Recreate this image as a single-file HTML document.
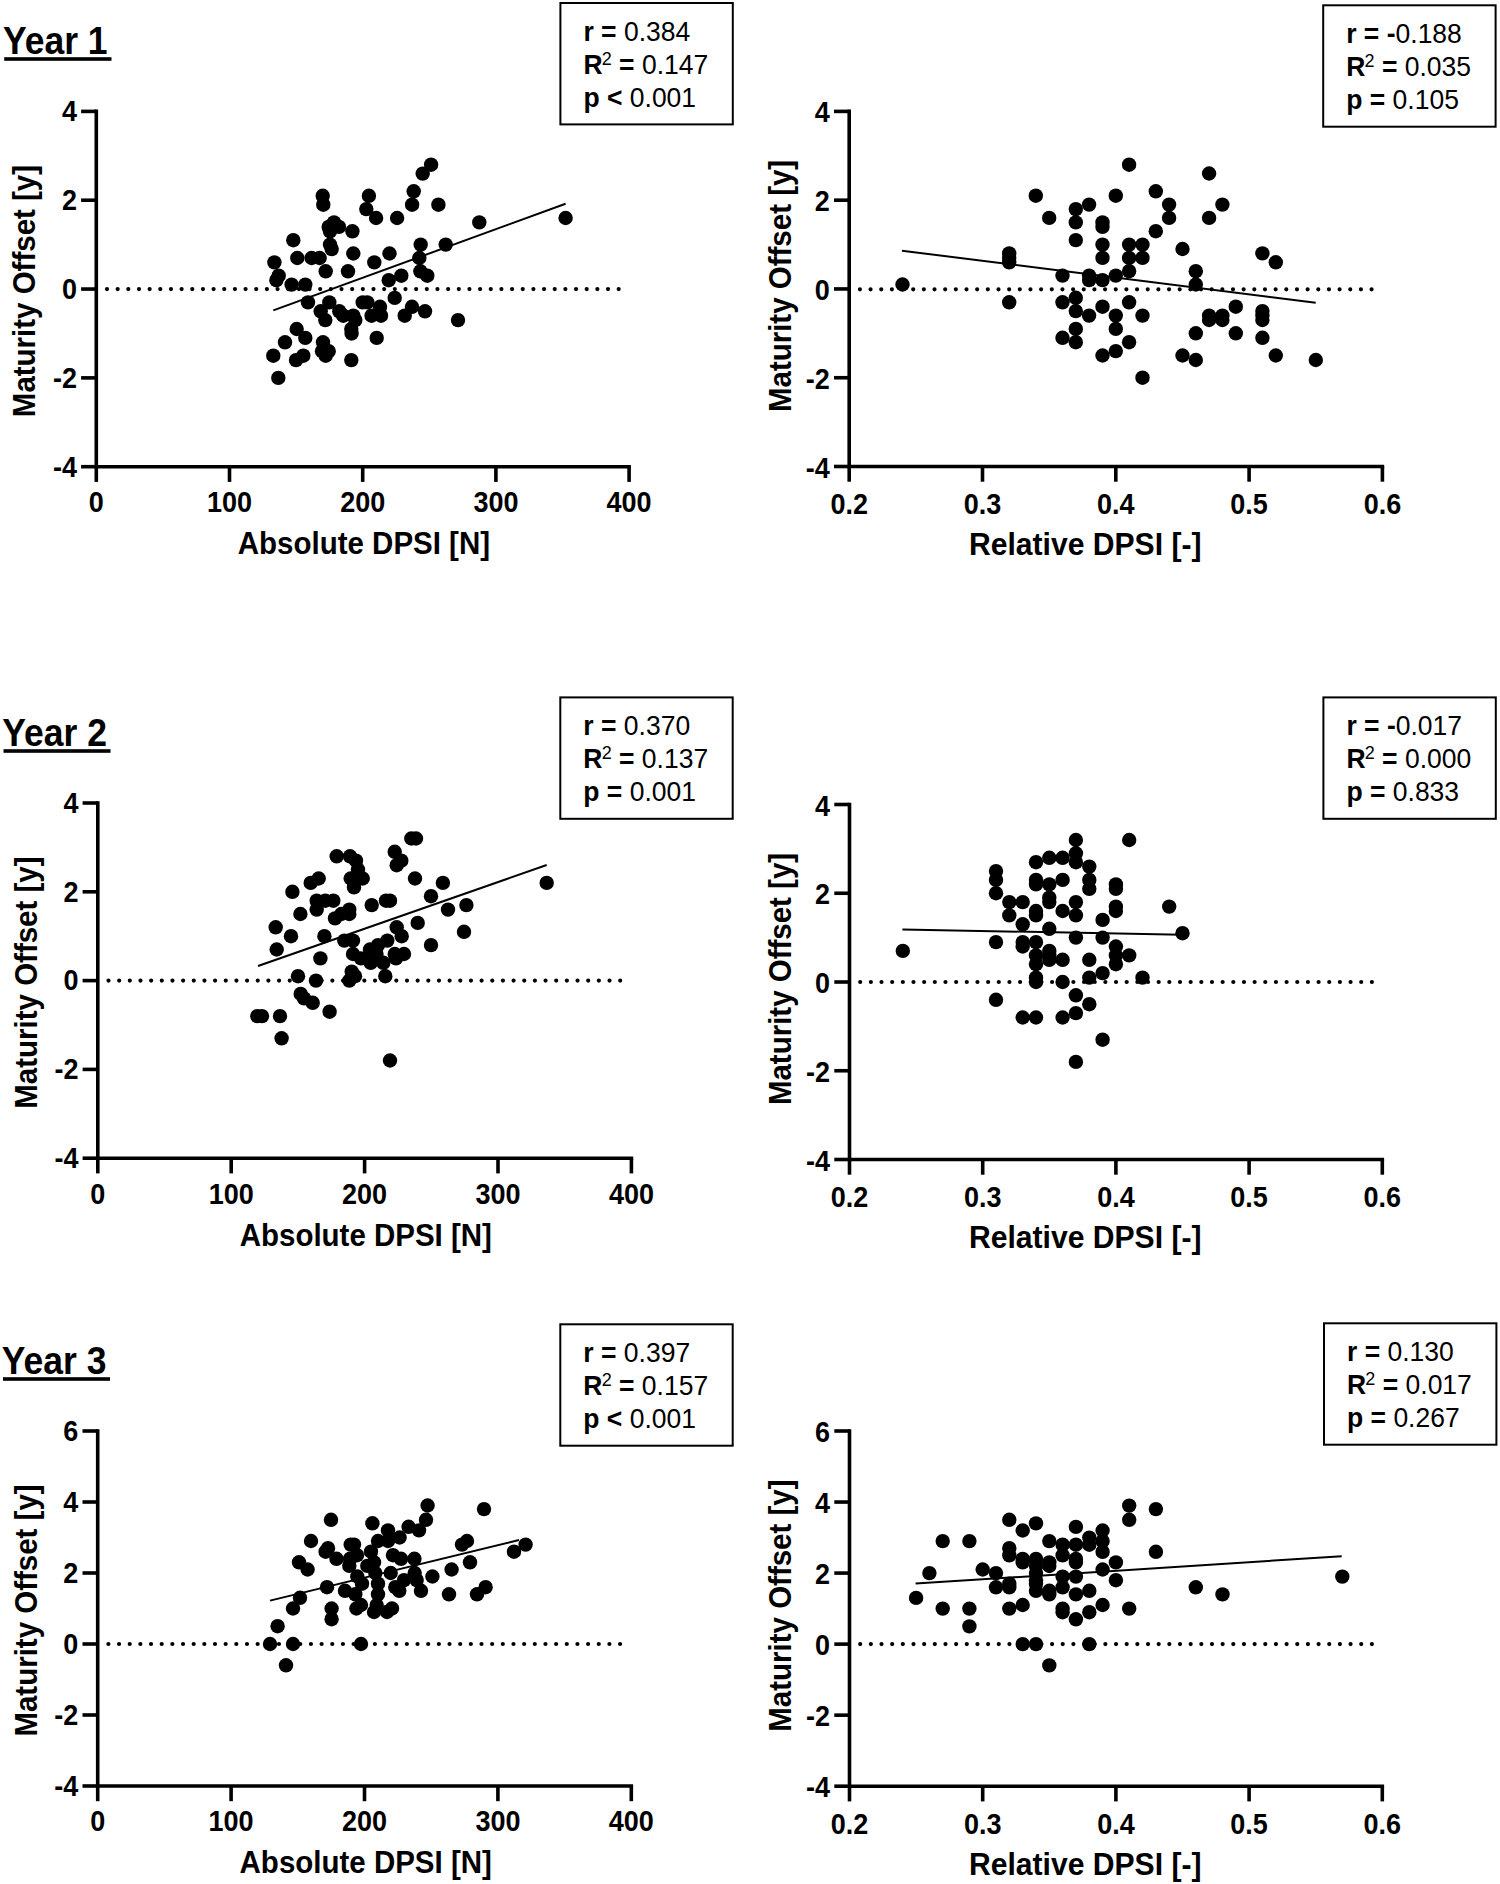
<!DOCTYPE html><html><head><meta charset="utf-8"><style>html,body{margin:0;padding:0;background:#fff;overflow:hidden;}svg{display:block;}text{font-family:"Liberation Sans",sans-serif;fill:#000;}</style></head><body>
<svg width="1500" height="1884" viewBox="0 0 1500 1884">
<rect width="1500" height="1884" fill="#fff"/>
<g><path d="M96.30 109.60V466.70H630.90" fill="none" stroke="#000" stroke-width="3.6"/><path d="M81.10 111.40H96.30" stroke="#000" stroke-width="3.6"/><text transform="translate(76.90 121.20) scale(1.0 1.07)" font-size="27" font-weight="bold" text-anchor="end">4</text><path d="M81.10 200.22H96.30" stroke="#000" stroke-width="3.6"/><text transform="translate(76.90 210.03) scale(1.0 1.07)" font-size="27" font-weight="bold" text-anchor="end">2</text><path d="M81.10 289.05H96.30" stroke="#000" stroke-width="3.6"/><text transform="translate(76.90 298.85) scale(1.0 1.07)" font-size="27" font-weight="bold" text-anchor="end">0</text><path d="M81.10 377.88H96.30" stroke="#000" stroke-width="3.6"/><text transform="translate(76.90 387.68) scale(1.0 1.07)" font-size="27" font-weight="bold" text-anchor="end">-2</text><path d="M81.10 466.70H96.30" stroke="#000" stroke-width="3.6"/><text transform="translate(76.90 476.50) scale(1.0 1.07)" font-size="27" font-weight="bold" text-anchor="end">-4</text><path d="M96.30 466.70V481.90" stroke="#000" stroke-width="3.6"/><text transform="translate(96.30 512.00) scale(1.0 1.07)" font-size="27" font-weight="bold" text-anchor="middle">0</text><path d="M229.50 466.70V481.90" stroke="#000" stroke-width="3.6"/><text transform="translate(229.50 512.00) scale(1.0 1.07)" font-size="27" font-weight="bold" text-anchor="middle">100</text><path d="M362.70 466.70V481.90" stroke="#000" stroke-width="3.6"/><text transform="translate(362.70 512.00) scale(1.0 1.07)" font-size="27" font-weight="bold" text-anchor="middle">200</text><path d="M495.90 466.70V481.90" stroke="#000" stroke-width="3.6"/><text transform="translate(495.90 512.00) scale(1.0 1.07)" font-size="27" font-weight="bold" text-anchor="middle">300</text><path d="M629.10 466.70V481.90" stroke="#000" stroke-width="3.6"/><text transform="translate(629.10 512.00) scale(1.0 1.07)" font-size="27" font-weight="bold" text-anchor="middle">400</text><path d="M107.00 289.05H619.68" stroke="#000" stroke-width="4.2" stroke-linecap="round" stroke-dasharray="0 10.66"/><text transform="translate(363.90 554.00) scale(1.0 1.07)" font-size="29.5" font-weight="bold" text-anchor="middle">Absolute DPSI [N]</text><text transform="translate(35.30 291.05) rotate(-90) scale(1.0 1.04)" font-size="29.5" font-weight="bold" text-anchor="middle">Maturity Offset [y]</text><path d="M273.3 310.4L565.6 203.7" stroke="#000" stroke-width="2"/><g fill="#000"><circle cx="431.1" cy="164.7" r="7.2"/><circle cx="422.7" cy="173.6" r="7.2"/><circle cx="413.7" cy="191.3" r="7.2"/><circle cx="412.1" cy="204.7" r="7.2"/><circle cx="438.4" cy="204.7" r="7.2"/><circle cx="322.7" cy="195.8" r="7.2"/><circle cx="323.3" cy="204.7" r="7.2"/><circle cx="368.9" cy="195.8" r="7.2"/><circle cx="366.3" cy="209.1" r="7.2"/><circle cx="376.1" cy="218.0" r="7.2"/><circle cx="397.1" cy="218.0" r="7.2"/><circle cx="334.0" cy="222.4" r="7.2"/><circle cx="328.7" cy="226.9" r="7.2"/><circle cx="339.0" cy="226.9" r="7.2"/><circle cx="330.0" cy="231.3" r="7.2"/><circle cx="352.4" cy="231.3" r="7.2"/><circle cx="293.3" cy="240.2" r="7.2"/><circle cx="330.0" cy="244.6" r="7.2"/><circle cx="331.7" cy="249.1" r="7.2"/><circle cx="353.3" cy="253.5" r="7.2"/><circle cx="389.5" cy="253.5" r="7.2"/><circle cx="420.7" cy="244.6" r="7.2"/><circle cx="445.7" cy="244.6" r="7.2"/><circle cx="274.4" cy="262.4" r="7.2"/><circle cx="297.3" cy="258.0" r="7.2"/><circle cx="311.6" cy="258.0" r="7.2"/><circle cx="319.6" cy="258.0" r="7.2"/><circle cx="374.3" cy="262.4" r="7.2"/><circle cx="419.3" cy="258.0" r="7.2"/><circle cx="325.7" cy="271.3" r="7.2"/><circle cx="348.0" cy="271.3" r="7.2"/><circle cx="278.7" cy="275.7" r="7.2"/><circle cx="276.4" cy="280.2" r="7.2"/><circle cx="291.6" cy="284.6" r="7.2"/><circle cx="305.3" cy="284.6" r="7.2"/><circle cx="388.7" cy="280.2" r="7.2"/><circle cx="401.3" cy="275.7" r="7.2"/><circle cx="420.4" cy="271.3" r="7.2"/><circle cx="427.3" cy="275.7" r="7.2"/><circle cx="479.3" cy="222.4" r="7.2"/><circle cx="565.6" cy="218.0" r="7.2"/><circle cx="308.0" cy="302.4" r="7.2"/><circle cx="329.3" cy="302.4" r="7.2"/><circle cx="320.7" cy="311.3" r="7.2"/><circle cx="325.3" cy="320.1" r="7.2"/><circle cx="339.3" cy="311.3" r="7.2"/><circle cx="343.3" cy="315.7" r="7.2"/><circle cx="353.3" cy="315.7" r="7.2"/><circle cx="355.3" cy="320.1" r="7.2"/><circle cx="351.3" cy="329.0" r="7.2"/><circle cx="351.6" cy="333.5" r="7.2"/><circle cx="362.7" cy="302.4" r="7.2"/><circle cx="367.3" cy="302.4" r="7.2"/><circle cx="380.0" cy="306.8" r="7.2"/><circle cx="371.6" cy="315.7" r="7.2"/><circle cx="381.0" cy="315.7" r="7.2"/><circle cx="394.7" cy="297.9" r="7.2"/><circle cx="412.0" cy="306.8" r="7.2"/><circle cx="404.7" cy="315.7" r="7.2"/><circle cx="425.0" cy="311.3" r="7.2"/><circle cx="296.7" cy="329.0" r="7.2"/><circle cx="305.3" cy="337.9" r="7.2"/><circle cx="285.0" cy="342.3" r="7.2"/><circle cx="323.0" cy="342.3" r="7.2"/><circle cx="328.7" cy="351.2" r="7.2"/><circle cx="322.0" cy="351.2" r="7.2"/><circle cx="325.7" cy="355.7" r="7.2"/><circle cx="303.3" cy="355.7" r="7.2"/><circle cx="296.0" cy="360.1" r="7.2"/><circle cx="273.3" cy="355.7" r="7.2"/><circle cx="376.7" cy="337.9" r="7.2"/><circle cx="351.3" cy="360.1" r="7.2"/><circle cx="278.3" cy="377.9" r="7.2"/><circle cx="458.0" cy="320.1" r="7.2"/></g></g>
<g><path d="M849.20 109.60V466.50H1384.20" fill="none" stroke="#000" stroke-width="3.6"/><path d="M834.00 111.40H849.20" stroke="#000" stroke-width="3.6"/><text transform="translate(829.80 122.40) scale(1.0 1.07)" font-size="27" font-weight="bold" text-anchor="end">4</text><path d="M834.00 200.18H849.20" stroke="#000" stroke-width="3.6"/><text transform="translate(829.80 211.18) scale(1.0 1.07)" font-size="27" font-weight="bold" text-anchor="end">2</text><path d="M834.00 288.95H849.20" stroke="#000" stroke-width="3.6"/><text transform="translate(829.80 299.95) scale(1.0 1.07)" font-size="27" font-weight="bold" text-anchor="end">0</text><path d="M834.00 377.73H849.20" stroke="#000" stroke-width="3.6"/><text transform="translate(829.80 388.73) scale(1.0 1.07)" font-size="27" font-weight="bold" text-anchor="end">-2</text><path d="M834.00 466.50H849.20" stroke="#000" stroke-width="3.6"/><text transform="translate(829.80 477.50) scale(1.0 1.07)" font-size="27" font-weight="bold" text-anchor="end">-4</text><path d="M849.20 466.50V481.70" stroke="#000" stroke-width="3.6"/><text transform="translate(849.20 514.10) scale(1.0 1.07)" font-size="27" font-weight="bold" text-anchor="middle">0.2</text><path d="M982.50 466.50V481.70" stroke="#000" stroke-width="3.6"/><text transform="translate(982.50 514.10) scale(1.0 1.07)" font-size="27" font-weight="bold" text-anchor="middle">0.3</text><path d="M1115.80 466.50V481.70" stroke="#000" stroke-width="3.6"/><text transform="translate(1115.80 514.10) scale(1.0 1.07)" font-size="27" font-weight="bold" text-anchor="middle">0.4</text><path d="M1249.10 466.50V481.70" stroke="#000" stroke-width="3.6"/><text transform="translate(1249.10 514.10) scale(1.0 1.07)" font-size="27" font-weight="bold" text-anchor="middle">0.5</text><path d="M1382.40 466.50V481.70" stroke="#000" stroke-width="3.6"/><text transform="translate(1382.40 514.10) scale(1.0 1.07)" font-size="27" font-weight="bold" text-anchor="middle">0.6</text><path d="M859.90 289.30H1372.58" stroke="#000" stroke-width="4.2" stroke-linecap="round" stroke-dasharray="0 10.66"/><text transform="translate(1085.20 555.00) scale(1.021 1.07)" font-size="29.5" font-weight="bold" text-anchor="middle">Relative DPSI [-]</text><text transform="translate(790.90 285.95) rotate(-90) scale(1.0 1.04)" font-size="29.5" font-weight="bold" text-anchor="middle">Maturity Offset [y]</text><path d="M902.0 250.7L1315.7 302.7" stroke="#000" stroke-width="2"/><g fill="#000"><circle cx="902.5" cy="284.5" r="7.2"/><circle cx="1009.2" cy="253.4" r="7.2"/><circle cx="1009.2" cy="257.9" r="7.2"/><circle cx="1009.2" cy="262.3" r="7.2"/><circle cx="1035.8" cy="195.7" r="7.2"/><circle cx="1049.2" cy="217.9" r="7.2"/><circle cx="1075.8" cy="209.1" r="7.2"/><circle cx="1089.1" cy="204.6" r="7.2"/><circle cx="1075.8" cy="222.4" r="7.2"/><circle cx="1075.8" cy="240.1" r="7.2"/><circle cx="1062.5" cy="275.6" r="7.2"/><circle cx="1089.1" cy="275.6" r="7.2"/><circle cx="1089.1" cy="280.1" r="7.2"/><circle cx="1102.5" cy="222.4" r="7.2"/><circle cx="1102.5" cy="226.8" r="7.2"/><circle cx="1102.5" cy="244.6" r="7.2"/><circle cx="1102.5" cy="257.9" r="7.2"/><circle cx="1102.5" cy="280.1" r="7.2"/><circle cx="1115.8" cy="195.7" r="7.2"/><circle cx="1115.8" cy="275.6" r="7.2"/><circle cx="1129.1" cy="164.7" r="7.2"/><circle cx="1129.1" cy="244.6" r="7.2"/><circle cx="1129.1" cy="257.9" r="7.2"/><circle cx="1129.1" cy="271.2" r="7.2"/><circle cx="1142.5" cy="244.6" r="7.2"/><circle cx="1142.5" cy="257.9" r="7.2"/><circle cx="1155.8" cy="191.3" r="7.2"/><circle cx="1155.8" cy="231.2" r="7.2"/><circle cx="1169.1" cy="204.6" r="7.2"/><circle cx="1169.1" cy="217.9" r="7.2"/><circle cx="1182.5" cy="249.0" r="7.2"/><circle cx="1195.8" cy="271.2" r="7.2"/><circle cx="1195.8" cy="284.5" r="7.2"/><circle cx="1209.1" cy="173.5" r="7.2"/><circle cx="1209.1" cy="217.9" r="7.2"/><circle cx="1222.4" cy="204.6" r="7.2"/><circle cx="1262.4" cy="253.4" r="7.2"/><circle cx="1275.8" cy="262.3" r="7.2"/><circle cx="1009.2" cy="302.3" r="7.2"/><circle cx="1062.5" cy="302.3" r="7.2"/><circle cx="1075.8" cy="297.8" r="7.2"/><circle cx="1075.8" cy="311.1" r="7.2"/><circle cx="1089.1" cy="315.6" r="7.2"/><circle cx="1102.5" cy="306.7" r="7.2"/><circle cx="1115.8" cy="315.6" r="7.2"/><circle cx="1129.1" cy="302.3" r="7.2"/><circle cx="1142.5" cy="315.6" r="7.2"/><circle cx="1075.8" cy="328.9" r="7.2"/><circle cx="1062.5" cy="337.8" r="7.2"/><circle cx="1075.8" cy="342.2" r="7.2"/><circle cx="1115.8" cy="328.9" r="7.2"/><circle cx="1129.1" cy="342.2" r="7.2"/><circle cx="1115.8" cy="351.1" r="7.2"/><circle cx="1102.5" cy="355.5" r="7.2"/><circle cx="1142.5" cy="377.7" r="7.2"/><circle cx="1195.8" cy="333.3" r="7.2"/><circle cx="1182.5" cy="355.5" r="7.2"/><circle cx="1195.8" cy="360.0" r="7.2"/><circle cx="1235.8" cy="306.7" r="7.2"/><circle cx="1209.1" cy="315.6" r="7.2"/><circle cx="1209.1" cy="320.0" r="7.2"/><circle cx="1222.4" cy="315.6" r="7.2"/><circle cx="1222.4" cy="320.0" r="7.2"/><circle cx="1262.4" cy="311.1" r="7.2"/><circle cx="1262.4" cy="315.6" r="7.2"/><circle cx="1262.4" cy="320.0" r="7.2"/><circle cx="1235.8" cy="333.3" r="7.2"/><circle cx="1262.4" cy="337.8" r="7.2"/><circle cx="1275.8" cy="355.5" r="7.2"/><circle cx="1315.8" cy="360.0" r="7.2"/></g></g>
<g><path d="M97.80 801.20V1158.20H633.20" fill="none" stroke="#000" stroke-width="3.6"/><path d="M82.60 803.00H97.80" stroke="#000" stroke-width="3.6"/><text transform="translate(78.40 812.80) scale(1.0 1.07)" font-size="27" font-weight="bold" text-anchor="end">4</text><path d="M82.60 891.80H97.80" stroke="#000" stroke-width="3.6"/><text transform="translate(78.40 901.60) scale(1.0 1.07)" font-size="27" font-weight="bold" text-anchor="end">2</text><path d="M82.60 980.60H97.80" stroke="#000" stroke-width="3.6"/><text transform="translate(78.40 990.40) scale(1.0 1.07)" font-size="27" font-weight="bold" text-anchor="end">0</text><path d="M82.60 1069.40H97.80" stroke="#000" stroke-width="3.6"/><text transform="translate(78.40 1079.20) scale(1.0 1.07)" font-size="27" font-weight="bold" text-anchor="end">-2</text><path d="M82.60 1158.20H97.80" stroke="#000" stroke-width="3.6"/><text transform="translate(78.40 1168.00) scale(1.0 1.07)" font-size="27" font-weight="bold" text-anchor="end">-4</text><path d="M97.80 1158.20V1173.40" stroke="#000" stroke-width="3.6"/><text transform="translate(97.80 1203.50) scale(1.0 1.07)" font-size="27" font-weight="bold" text-anchor="middle">0</text><path d="M231.20 1158.20V1173.40" stroke="#000" stroke-width="3.6"/><text transform="translate(231.20 1203.50) scale(1.0 1.07)" font-size="27" font-weight="bold" text-anchor="middle">100</text><path d="M364.60 1158.20V1173.40" stroke="#000" stroke-width="3.6"/><text transform="translate(364.60 1203.50) scale(1.0 1.07)" font-size="27" font-weight="bold" text-anchor="middle">200</text><path d="M498.00 1158.20V1173.40" stroke="#000" stroke-width="3.6"/><text transform="translate(498.00 1203.50) scale(1.0 1.07)" font-size="27" font-weight="bold" text-anchor="middle">300</text><path d="M631.40 1158.20V1173.40" stroke="#000" stroke-width="3.6"/><text transform="translate(631.40 1203.50) scale(1.0 1.07)" font-size="27" font-weight="bold" text-anchor="middle">400</text><path d="M108.50 980.60H621.18" stroke="#000" stroke-width="4.2" stroke-linecap="round" stroke-dasharray="0 10.66"/><text transform="translate(365.80 1245.50) scale(1.0 1.07)" font-size="29.5" font-weight="bold" text-anchor="middle">Absolute DPSI [N]</text><text transform="translate(36.80 982.60) rotate(-90) scale(1.0 1.04)" font-size="29.5" font-weight="bold" text-anchor="middle">Maturity Offset [y]</text><path d="M258.0 966.0L546.7 865.0" stroke="#000" stroke-width="2"/><g fill="#000"><circle cx="411.3" cy="838.5" r="7.2"/><circle cx="416.0" cy="838.5" r="7.2"/><circle cx="336.7" cy="856.3" r="7.2"/><circle cx="350.0" cy="856.3" r="7.2"/><circle cx="356.0" cy="860.7" r="7.2"/><circle cx="358.0" cy="869.6" r="7.2"/><circle cx="394.7" cy="851.8" r="7.2"/><circle cx="401.3" cy="860.7" r="7.2"/><circle cx="396.7" cy="865.2" r="7.2"/><circle cx="415.0" cy="878.5" r="7.2"/><circle cx="318.7" cy="878.5" r="7.2"/><circle cx="310.7" cy="882.9" r="7.2"/><circle cx="292.4" cy="891.8" r="7.2"/><circle cx="350.7" cy="878.5" r="7.2"/><circle cx="362.7" cy="878.5" r="7.2"/><circle cx="354.0" cy="887.4" r="7.2"/><circle cx="316.7" cy="900.7" r="7.2"/><circle cx="325.3" cy="900.7" r="7.2"/><circle cx="333.3" cy="900.7" r="7.2"/><circle cx="316.7" cy="909.6" r="7.2"/><circle cx="300.4" cy="914.0" r="7.2"/><circle cx="349.3" cy="909.6" r="7.2"/><circle cx="349.3" cy="914.0" r="7.2"/><circle cx="341.3" cy="914.0" r="7.2"/><circle cx="335.0" cy="918.4" r="7.2"/><circle cx="371.7" cy="905.1" r="7.2"/><circle cx="386.0" cy="900.7" r="7.2"/><circle cx="390.0" cy="900.7" r="7.2"/><circle cx="431.0" cy="896.2" r="7.2"/><circle cx="275.7" cy="927.3" r="7.2"/><circle cx="291.0" cy="936.2" r="7.2"/><circle cx="276.7" cy="949.5" r="7.2"/><circle cx="324.4" cy="936.2" r="7.2"/><circle cx="417.7" cy="922.9" r="7.2"/><circle cx="396.7" cy="927.3" r="7.2"/><circle cx="401.7" cy="936.2" r="7.2"/><circle cx="431.0" cy="945.1" r="7.2"/><circle cx="320.4" cy="958.4" r="7.2"/><circle cx="344.3" cy="940.6" r="7.2"/><circle cx="353.0" cy="940.6" r="7.2"/><circle cx="353.0" cy="954.0" r="7.2"/><circle cx="361.0" cy="958.4" r="7.2"/><circle cx="370.0" cy="949.5" r="7.2"/><circle cx="378.0" cy="945.1" r="7.2"/><circle cx="387.3" cy="940.6" r="7.2"/><circle cx="370.7" cy="962.8" r="7.2"/><circle cx="383.3" cy="962.8" r="7.2"/><circle cx="394.7" cy="954.0" r="7.2"/><circle cx="404.0" cy="954.0" r="7.2"/><circle cx="396.0" cy="958.4" r="7.2"/><circle cx="351.7" cy="971.7" r="7.2"/><circle cx="355.0" cy="976.2" r="7.2"/><circle cx="349.3" cy="980.6" r="7.2"/><circle cx="385.3" cy="976.2" r="7.2"/><circle cx="376.5" cy="954.0" r="7.2"/><circle cx="298.0" cy="976.2" r="7.2"/><circle cx="316.0" cy="980.6" r="7.2"/><circle cx="442.9" cy="882.9" r="7.2"/><circle cx="448.0" cy="909.6" r="7.2"/><circle cx="466.4" cy="905.1" r="7.2"/><circle cx="464.0" cy="931.8" r="7.2"/><circle cx="546.7" cy="882.9" r="7.2"/><circle cx="300.7" cy="993.9" r="7.2"/><circle cx="304.0" cy="998.4" r="7.2"/><circle cx="312.7" cy="1002.8" r="7.2"/><circle cx="329.6" cy="1011.7" r="7.2"/><circle cx="257.3" cy="1016.1" r="7.2"/><circle cx="262.0" cy="1016.1" r="7.2"/><circle cx="280.0" cy="1016.1" r="7.2"/><circle cx="281.6" cy="1038.3" r="7.2"/><circle cx="390.0" cy="1060.5" r="7.2"/></g></g>
<g><path d="M849.50 802.70V1159.50H1384.10" fill="none" stroke="#000" stroke-width="3.6"/><path d="M834.30 804.50H849.50" stroke="#000" stroke-width="3.6"/><text transform="translate(830.10 815.50) scale(1.0 1.07)" font-size="27" font-weight="bold" text-anchor="end">4</text><path d="M834.30 893.25H849.50" stroke="#000" stroke-width="3.6"/><text transform="translate(830.10 904.25) scale(1.0 1.07)" font-size="27" font-weight="bold" text-anchor="end">2</text><path d="M834.30 982.00H849.50" stroke="#000" stroke-width="3.6"/><text transform="translate(830.10 993.00) scale(1.0 1.07)" font-size="27" font-weight="bold" text-anchor="end">0</text><path d="M834.30 1070.75H849.50" stroke="#000" stroke-width="3.6"/><text transform="translate(830.10 1081.75) scale(1.0 1.07)" font-size="27" font-weight="bold" text-anchor="end">-2</text><path d="M834.30 1159.50H849.50" stroke="#000" stroke-width="3.6"/><text transform="translate(830.10 1170.50) scale(1.0 1.07)" font-size="27" font-weight="bold" text-anchor="end">-4</text><path d="M849.50 1159.50V1174.70" stroke="#000" stroke-width="3.6"/><text transform="translate(849.50 1207.10) scale(1.0 1.07)" font-size="27" font-weight="bold" text-anchor="middle">0.2</text><path d="M982.70 1159.50V1174.70" stroke="#000" stroke-width="3.6"/><text transform="translate(982.70 1207.10) scale(1.0 1.07)" font-size="27" font-weight="bold" text-anchor="middle">0.3</text><path d="M1115.90 1159.50V1174.70" stroke="#000" stroke-width="3.6"/><text transform="translate(1115.90 1207.10) scale(1.0 1.07)" font-size="27" font-weight="bold" text-anchor="middle">0.4</text><path d="M1249.10 1159.50V1174.70" stroke="#000" stroke-width="3.6"/><text transform="translate(1249.10 1207.10) scale(1.0 1.07)" font-size="27" font-weight="bold" text-anchor="middle">0.5</text><path d="M1382.30 1159.50V1174.70" stroke="#000" stroke-width="3.6"/><text transform="translate(1382.30 1207.10) scale(1.0 1.07)" font-size="27" font-weight="bold" text-anchor="middle">0.6</text><path d="M860.20 982.00H1372.88" stroke="#000" stroke-width="4.2" stroke-linecap="round" stroke-dasharray="0 10.66"/><text transform="translate(1085.20 1248.00) scale(1.021 1.07)" font-size="29.5" font-weight="bold" text-anchor="middle">Relative DPSI [-]</text><text transform="translate(791.20 979.00) rotate(-90) scale(1.0 1.04)" font-size="29.5" font-weight="bold" text-anchor="middle">Maturity Offset [y]</text><path d="M902.4 929.4L1182.0 934.8" stroke="#000" stroke-width="2"/><g fill="#000"><circle cx="996.0" cy="871.1" r="7.2"/><circle cx="996.0" cy="879.9" r="7.2"/><circle cx="996.0" cy="893.2" r="7.2"/><circle cx="1009.3" cy="902.1" r="7.2"/><circle cx="1009.3" cy="915.4" r="7.2"/><circle cx="1022.7" cy="902.1" r="7.2"/><circle cx="1036.0" cy="862.2" r="7.2"/><circle cx="1036.0" cy="879.9" r="7.2"/><circle cx="1036.0" cy="884.4" r="7.2"/><circle cx="1036.0" cy="911.0" r="7.2"/><circle cx="1036.0" cy="915.4" r="7.2"/><circle cx="1049.3" cy="857.8" r="7.2"/><circle cx="1049.3" cy="884.4" r="7.2"/><circle cx="1049.3" cy="897.7" r="7.2"/><circle cx="1049.3" cy="902.1" r="7.2"/><circle cx="1062.6" cy="857.8" r="7.2"/><circle cx="1062.6" cy="879.9" r="7.2"/><circle cx="1062.6" cy="911.0" r="7.2"/><circle cx="1075.9" cy="840.0" r="7.2"/><circle cx="1075.9" cy="853.3" r="7.2"/><circle cx="1075.9" cy="862.2" r="7.2"/><circle cx="1075.9" cy="902.1" r="7.2"/><circle cx="1075.9" cy="915.4" r="7.2"/><circle cx="1089.3" cy="866.6" r="7.2"/><circle cx="1089.3" cy="879.9" r="7.2"/><circle cx="1089.3" cy="888.8" r="7.2"/><circle cx="1115.9" cy="884.4" r="7.2"/><circle cx="1115.9" cy="888.8" r="7.2"/><circle cx="1129.2" cy="840.0" r="7.2"/><circle cx="1115.9" cy="906.6" r="7.2"/><circle cx="1115.9" cy="911.0" r="7.2"/><circle cx="1102.6" cy="919.9" r="7.2"/><circle cx="1169.2" cy="906.6" r="7.2"/><circle cx="1022.7" cy="924.3" r="7.2"/><circle cx="1049.3" cy="928.8" r="7.2"/><circle cx="1075.9" cy="937.6" r="7.2"/><circle cx="996.0" cy="942.1" r="7.2"/><circle cx="1022.7" cy="942.1" r="7.2"/><circle cx="1022.7" cy="946.5" r="7.2"/><circle cx="1036.0" cy="942.1" r="7.2"/><circle cx="1036.0" cy="955.4" r="7.2"/><circle cx="1036.0" cy="964.2" r="7.2"/><circle cx="1049.3" cy="950.9" r="7.2"/><circle cx="1049.3" cy="955.4" r="7.2"/><circle cx="1049.3" cy="959.8" r="7.2"/><circle cx="1062.6" cy="959.8" r="7.2"/><circle cx="1036.0" cy="977.6" r="7.2"/><circle cx="1036.0" cy="982.0" r="7.2"/><circle cx="1062.6" cy="982.0" r="7.2"/><circle cx="1075.9" cy="995.3" r="7.2"/><circle cx="996.0" cy="999.8" r="7.2"/><circle cx="902.8" cy="950.9" r="7.2"/><circle cx="1102.6" cy="937.6" r="7.2"/><circle cx="1182.5" cy="933.2" r="7.2"/><circle cx="1115.9" cy="946.5" r="7.2"/><circle cx="1115.9" cy="955.4" r="7.2"/><circle cx="1115.9" cy="964.2" r="7.2"/><circle cx="1129.2" cy="955.4" r="7.2"/><circle cx="1089.3" cy="959.8" r="7.2"/><circle cx="1102.6" cy="973.1" r="7.2"/><circle cx="1089.3" cy="977.6" r="7.2"/><circle cx="1142.5" cy="977.6" r="7.2"/><circle cx="1089.3" cy="1004.2" r="7.2"/><circle cx="1022.7" cy="1017.5" r="7.2"/><circle cx="1036.0" cy="1017.5" r="7.2"/><circle cx="1062.6" cy="1017.5" r="7.2"/><circle cx="1075.9" cy="1013.1" r="7.2"/><circle cx="1102.6" cy="1039.7" r="7.2"/><circle cx="1075.9" cy="1061.9" r="7.2"/></g></g>
<g><path d="M97.70 1429.20V1786.00H633.10" fill="none" stroke="#000" stroke-width="3.6"/><path d="M82.50 1431.00H97.70" stroke="#000" stroke-width="3.6"/><text transform="translate(78.30 1440.80) scale(1.0 1.07)" font-size="27" font-weight="bold" text-anchor="end">6</text><path d="M82.50 1502.00H97.70" stroke="#000" stroke-width="3.6"/><text transform="translate(78.30 1511.80) scale(1.0 1.07)" font-size="27" font-weight="bold" text-anchor="end">4</text><path d="M82.50 1573.00H97.70" stroke="#000" stroke-width="3.6"/><text transform="translate(78.30 1582.80) scale(1.0 1.07)" font-size="27" font-weight="bold" text-anchor="end">2</text><path d="M82.50 1644.00H97.70" stroke="#000" stroke-width="3.6"/><text transform="translate(78.30 1653.80) scale(1.0 1.07)" font-size="27" font-weight="bold" text-anchor="end">0</text><path d="M82.50 1715.00H97.70" stroke="#000" stroke-width="3.6"/><text transform="translate(78.30 1724.80) scale(1.0 1.07)" font-size="27" font-weight="bold" text-anchor="end">-2</text><path d="M82.50 1786.00H97.70" stroke="#000" stroke-width="3.6"/><text transform="translate(78.30 1795.80) scale(1.0 1.07)" font-size="27" font-weight="bold" text-anchor="end">-4</text><path d="M97.70 1786.00V1801.20" stroke="#000" stroke-width="3.6"/><text transform="translate(97.70 1831.30) scale(1.0 1.07)" font-size="27" font-weight="bold" text-anchor="middle">0</text><path d="M231.10 1786.00V1801.20" stroke="#000" stroke-width="3.6"/><text transform="translate(231.10 1831.30) scale(1.0 1.07)" font-size="27" font-weight="bold" text-anchor="middle">100</text><path d="M364.50 1786.00V1801.20" stroke="#000" stroke-width="3.6"/><text transform="translate(364.50 1831.30) scale(1.0 1.07)" font-size="27" font-weight="bold" text-anchor="middle">200</text><path d="M497.90 1786.00V1801.20" stroke="#000" stroke-width="3.6"/><text transform="translate(497.90 1831.30) scale(1.0 1.07)" font-size="27" font-weight="bold" text-anchor="middle">300</text><path d="M631.30 1786.00V1801.20" stroke="#000" stroke-width="3.6"/><text transform="translate(631.30 1831.30) scale(1.0 1.07)" font-size="27" font-weight="bold" text-anchor="middle">400</text><path d="M108.40 1644.00H621.08" stroke="#000" stroke-width="4.2" stroke-linecap="round" stroke-dasharray="0 10.66"/><text transform="translate(365.70 1873.30) scale(1.0 1.07)" font-size="29.5" font-weight="bold" text-anchor="middle">Absolute DPSI [N]</text><text transform="translate(36.70 1610.50) rotate(-90) scale(1.0 1.04)" font-size="29.5" font-weight="bold" text-anchor="middle">Maturity Offset [y]</text><path d="M270.0 1600.6L519.0 1540.0" stroke="#000" stroke-width="2"/><g fill="#000"><circle cx="427.6" cy="1505.5" r="7.2"/><circle cx="426.0" cy="1519.8" r="7.2"/><circle cx="484.0" cy="1509.1" r="7.2"/><circle cx="331.0" cy="1519.8" r="7.2"/><circle cx="372.4" cy="1523.3" r="7.2"/><circle cx="388.0" cy="1530.4" r="7.2"/><circle cx="408.6" cy="1526.8" r="7.2"/><circle cx="419.0" cy="1530.4" r="7.2"/><circle cx="399.6" cy="1537.5" r="7.2"/><circle cx="388.0" cy="1541.0" r="7.2"/><circle cx="378.0" cy="1541.0" r="7.2"/><circle cx="311.0" cy="1541.0" r="7.2"/><circle cx="328.0" cy="1548.2" r="7.2"/><circle cx="325.6" cy="1551.7" r="7.2"/><circle cx="350.7" cy="1544.6" r="7.2"/><circle cx="354.0" cy="1544.6" r="7.2"/><circle cx="336.5" cy="1558.8" r="7.2"/><circle cx="371.0" cy="1551.7" r="7.2"/><circle cx="299.0" cy="1562.3" r="7.2"/><circle cx="307.6" cy="1569.5" r="7.2"/><circle cx="393.0" cy="1555.2" r="7.2"/><circle cx="401.0" cy="1558.8" r="7.2"/><circle cx="414.4" cy="1558.8" r="7.2"/><circle cx="462.0" cy="1544.6" r="7.2"/><circle cx="467.0" cy="1541.0" r="7.2"/><circle cx="514.0" cy="1551.7" r="7.2"/><circle cx="525.6" cy="1544.6" r="7.2"/><circle cx="470.0" cy="1562.3" r="7.2"/><circle cx="451.6" cy="1569.5" r="7.2"/><circle cx="432.4" cy="1576.5" r="7.2"/><circle cx="485.6" cy="1587.2" r="7.2"/><circle cx="477.0" cy="1594.3" r="7.2"/><circle cx="449.0" cy="1594.3" r="7.2"/><circle cx="421.0" cy="1590.8" r="7.2"/><circle cx="327.0" cy="1587.2" r="7.2"/><circle cx="345.0" cy="1590.8" r="7.2"/><circle cx="300.0" cy="1597.8" r="7.2"/><circle cx="293.0" cy="1608.5" r="7.2"/><circle cx="277.6" cy="1626.2" r="7.2"/><circle cx="270.0" cy="1644.0" r="7.2"/><circle cx="293.0" cy="1644.0" r="7.2"/><circle cx="361.0" cy="1644.0" r="7.2"/><circle cx="286.0" cy="1665.3" r="7.2"/><circle cx="331.6" cy="1608.5" r="7.2"/><circle cx="331.6" cy="1619.2" r="7.2"/><circle cx="356.4" cy="1608.5" r="7.2"/><circle cx="361.0" cy="1605.0" r="7.2"/><circle cx="374.0" cy="1612.0" r="7.2"/><circle cx="387.0" cy="1612.0" r="7.2"/><circle cx="392.0" cy="1608.5" r="7.2"/><circle cx="349.3" cy="1565.9" r="7.2"/><circle cx="350.0" cy="1558.8" r="7.2"/><circle cx="357.0" cy="1555.2" r="7.2"/><circle cx="374.0" cy="1562.3" r="7.2"/><circle cx="367.3" cy="1565.9" r="7.2"/><circle cx="375.3" cy="1573.0" r="7.2"/><circle cx="357.3" cy="1576.5" r="7.2"/><circle cx="390.7" cy="1573.0" r="7.2"/><circle cx="414.7" cy="1573.0" r="7.2"/><circle cx="416.7" cy="1580.1" r="7.2"/><circle cx="404.0" cy="1580.1" r="7.2"/><circle cx="399.3" cy="1590.8" r="7.2"/><circle cx="395.3" cy="1587.2" r="7.2"/><circle cx="378.0" cy="1583.7" r="7.2"/><circle cx="362.0" cy="1583.7" r="7.2"/><circle cx="378.0" cy="1594.3" r="7.2"/><circle cx="355.3" cy="1594.3" r="7.2"/><circle cx="376.7" cy="1605.0" r="7.2"/></g></g>
<g><path d="M849.50 1429.20V1786.20H1384.10" fill="none" stroke="#000" stroke-width="3.6"/><path d="M834.30 1431.00H849.50" stroke="#000" stroke-width="3.6"/><text transform="translate(830.10 1442.00) scale(1.0 1.07)" font-size="27" font-weight="bold" text-anchor="end">6</text><path d="M834.30 1502.04H849.50" stroke="#000" stroke-width="3.6"/><text transform="translate(830.10 1513.04) scale(1.0 1.07)" font-size="27" font-weight="bold" text-anchor="end">4</text><path d="M834.30 1573.08H849.50" stroke="#000" stroke-width="3.6"/><text transform="translate(830.10 1584.08) scale(1.0 1.07)" font-size="27" font-weight="bold" text-anchor="end">2</text><path d="M834.30 1644.12H849.50" stroke="#000" stroke-width="3.6"/><text transform="translate(830.10 1655.12) scale(1.0 1.07)" font-size="27" font-weight="bold" text-anchor="end">0</text><path d="M834.30 1715.16H849.50" stroke="#000" stroke-width="3.6"/><text transform="translate(830.10 1726.16) scale(1.0 1.07)" font-size="27" font-weight="bold" text-anchor="end">-2</text><path d="M834.30 1786.20H849.50" stroke="#000" stroke-width="3.6"/><text transform="translate(830.10 1797.20) scale(1.0 1.07)" font-size="27" font-weight="bold" text-anchor="end">-4</text><path d="M849.50 1786.20V1801.40" stroke="#000" stroke-width="3.6"/><text transform="translate(849.50 1833.80) scale(1.0 1.07)" font-size="27" font-weight="bold" text-anchor="middle">0.2</text><path d="M982.70 1786.20V1801.40" stroke="#000" stroke-width="3.6"/><text transform="translate(982.70 1833.80) scale(1.0 1.07)" font-size="27" font-weight="bold" text-anchor="middle">0.3</text><path d="M1115.90 1786.20V1801.40" stroke="#000" stroke-width="3.6"/><text transform="translate(1115.90 1833.80) scale(1.0 1.07)" font-size="27" font-weight="bold" text-anchor="middle">0.4</text><path d="M1249.10 1786.20V1801.40" stroke="#000" stroke-width="3.6"/><text transform="translate(1249.10 1833.80) scale(1.0 1.07)" font-size="27" font-weight="bold" text-anchor="middle">0.5</text><path d="M1382.30 1786.20V1801.40" stroke="#000" stroke-width="3.6"/><text transform="translate(1382.30 1833.80) scale(1.0 1.07)" font-size="27" font-weight="bold" text-anchor="middle">0.6</text><path d="M860.20 1644.12H1372.88" stroke="#000" stroke-width="4.2" stroke-linecap="round" stroke-dasharray="0 10.66"/><text transform="translate(1085.20 1874.70) scale(1.021 1.07)" font-size="29.5" font-weight="bold" text-anchor="middle">Relative DPSI [-]</text><text transform="translate(791.20 1605.60) rotate(-90) scale(1.0 1.04)" font-size="29.5" font-weight="bold" text-anchor="middle">Maturity Offset [y]</text><path d="M915.6 1583.6L1341.7 1556.2" stroke="#000" stroke-width="2"/><g fill="#000"><circle cx="916.1" cy="1597.9" r="7.2"/><circle cx="929.4" cy="1573.1" r="7.2"/><circle cx="942.7" cy="1541.1" r="7.2"/><circle cx="942.7" cy="1608.6" r="7.2"/><circle cx="969.4" cy="1541.1" r="7.2"/><circle cx="969.4" cy="1608.6" r="7.2"/><circle cx="969.4" cy="1626.4" r="7.2"/><circle cx="982.7" cy="1569.5" r="7.2"/><circle cx="996.0" cy="1573.1" r="7.2"/><circle cx="996.0" cy="1587.3" r="7.2"/><circle cx="1009.3" cy="1583.7" r="7.2"/><circle cx="1009.3" cy="1587.3" r="7.2"/><circle cx="1009.3" cy="1519.8" r="7.2"/><circle cx="1009.3" cy="1548.2" r="7.2"/><circle cx="1009.3" cy="1555.3" r="7.2"/><circle cx="1009.3" cy="1608.6" r="7.2"/><circle cx="1022.7" cy="1530.5" r="7.2"/><circle cx="1022.7" cy="1558.9" r="7.2"/><circle cx="1022.7" cy="1562.4" r="7.2"/><circle cx="1022.7" cy="1605.0" r="7.2"/><circle cx="1022.7" cy="1644.1" r="7.2"/><circle cx="1036.0" cy="1523.4" r="7.2"/><circle cx="1036.0" cy="1558.9" r="7.2"/><circle cx="1036.0" cy="1566.0" r="7.2"/><circle cx="1036.0" cy="1573.1" r="7.2"/><circle cx="1036.0" cy="1580.2" r="7.2"/><circle cx="1036.0" cy="1583.7" r="7.2"/><circle cx="1036.0" cy="1590.8" r="7.2"/><circle cx="1036.0" cy="1644.1" r="7.2"/><circle cx="1049.3" cy="1541.1" r="7.2"/><circle cx="1049.3" cy="1562.4" r="7.2"/><circle cx="1049.3" cy="1566.0" r="7.2"/><circle cx="1049.3" cy="1590.8" r="7.2"/><circle cx="1049.3" cy="1594.4" r="7.2"/><circle cx="1049.3" cy="1665.4" r="7.2"/><circle cx="1062.6" cy="1544.7" r="7.2"/><circle cx="1062.6" cy="1555.3" r="7.2"/><circle cx="1062.6" cy="1576.6" r="7.2"/><circle cx="1062.6" cy="1587.3" r="7.2"/><circle cx="1062.6" cy="1608.6" r="7.2"/><circle cx="1062.6" cy="1612.2" r="7.2"/><circle cx="1075.9" cy="1526.9" r="7.2"/><circle cx="1075.9" cy="1544.7" r="7.2"/><circle cx="1075.9" cy="1558.9" r="7.2"/><circle cx="1075.9" cy="1562.4" r="7.2"/><circle cx="1075.9" cy="1576.6" r="7.2"/><circle cx="1075.9" cy="1594.4" r="7.2"/><circle cx="1075.9" cy="1619.3" r="7.2"/><circle cx="1089.3" cy="1537.6" r="7.2"/><circle cx="1089.3" cy="1544.7" r="7.2"/><circle cx="1089.3" cy="1590.8" r="7.2"/><circle cx="1089.3" cy="1612.2" r="7.2"/><circle cx="1089.3" cy="1644.1" r="7.2"/><circle cx="1102.6" cy="1530.5" r="7.2"/><circle cx="1102.6" cy="1541.1" r="7.2"/><circle cx="1102.6" cy="1551.8" r="7.2"/><circle cx="1102.6" cy="1569.5" r="7.2"/><circle cx="1102.6" cy="1605.0" r="7.2"/><circle cx="1115.9" cy="1562.4" r="7.2"/><circle cx="1115.9" cy="1580.2" r="7.2"/><circle cx="1129.2" cy="1505.6" r="7.2"/><circle cx="1129.2" cy="1519.8" r="7.2"/><circle cx="1129.2" cy="1608.6" r="7.2"/><circle cx="1155.9" cy="1509.1" r="7.2"/><circle cx="1155.9" cy="1551.8" r="7.2"/><circle cx="1195.8" cy="1587.3" r="7.2"/><circle cx="1222.5" cy="1594.4" r="7.2"/><circle cx="1342.3" cy="1576.6" r="7.2"/></g></g>
<text transform="translate(3.00 53.60) scale(1.0 1.07)" font-size="35.5" font-weight="bold" text-anchor="start">Year 1</text>
<rect x="4.2" y="57.20" width="107.30" height="3.6" fill="#000"/>
<text transform="translate(2.30 745.60) scale(1.0 1.07)" font-size="35.5" font-weight="bold" text-anchor="start">Year 2</text>
<rect x="3.5" y="749.20" width="107.00" height="3.6" fill="#000"/>
<text transform="translate(1.80 1373.60) scale(1.0 1.07)" font-size="35.5" font-weight="bold" text-anchor="start">Year 3</text>
<rect x="3.0" y="1377.20" width="107.00" height="3.6" fill="#000"/>
<rect x="560.40" y="3.00" width="172.4" height="121.4" fill="none" stroke="#000" stroke-width="2"/>
<text transform="translate(583.40 40.70) scale(1.0 1.07)" font-size="26.5" font-weight="normal" text-anchor="start"><tspan font-weight="bold">r = </tspan>0.384</text>
<text transform="translate(583.40 73.80) scale(1.0 1.07)" font-size="26.5" font-weight="normal" text-anchor="start"><tspan font-weight="bold">R</tspan><tspan font-size="18" dx="-0.8" dy="-8.3">2</tspan><tspan font-weight="bold" dy="8.3"> = </tspan>0.147</text>
<text transform="translate(583.40 106.70) scale(1.0 1.07)" font-size="26.5" font-weight="normal" text-anchor="start"><tspan font-weight="bold">p &lt; </tspan>0.001</text>
<rect x="1323.20" y="5.30" width="172.4" height="121.4" fill="none" stroke="#000" stroke-width="2"/>
<text transform="translate(1346.20 43.00) scale(1.0 1.07)" font-size="26.5" font-weight="normal" text-anchor="start"><tspan font-weight="bold">r = -</tspan>0.188</text>
<text transform="translate(1346.20 76.10) scale(1.0 1.07)" font-size="26.5" font-weight="normal" text-anchor="start"><tspan font-weight="bold">R</tspan><tspan font-size="18" dx="-0.8" dy="-8.3">2</tspan><tspan font-weight="bold" dy="8.3"> = </tspan>0.035</text>
<text transform="translate(1346.20 109.00) scale(1.0 1.07)" font-size="26.5" font-weight="normal" text-anchor="start"><tspan font-weight="bold">p = </tspan>0.105</text>
<rect x="560.30" y="697.40" width="172.4" height="121.4" fill="none" stroke="#000" stroke-width="2"/>
<text transform="translate(583.30 735.10) scale(1.0 1.07)" font-size="26.5" font-weight="normal" text-anchor="start"><tspan font-weight="bold">r = </tspan>0.370</text>
<text transform="translate(583.30 768.20) scale(1.0 1.07)" font-size="26.5" font-weight="normal" text-anchor="start"><tspan font-weight="bold">R</tspan><tspan font-size="18" dx="-0.8" dy="-8.3">2</tspan><tspan font-weight="bold" dy="8.3"> = </tspan>0.137</text>
<text transform="translate(583.30 801.10) scale(1.0 1.07)" font-size="26.5" font-weight="normal" text-anchor="start"><tspan font-weight="bold">p = </tspan>0.001</text>
<rect x="1323.40" y="697.40" width="172.4" height="121.4" fill="none" stroke="#000" stroke-width="2"/>
<text transform="translate(1346.40 735.10) scale(1.0 1.07)" font-size="26.5" font-weight="normal" text-anchor="start"><tspan font-weight="bold">r = -</tspan>0.017</text>
<text transform="translate(1346.40 768.20) scale(1.0 1.07)" font-size="26.5" font-weight="normal" text-anchor="start"><tspan font-weight="bold">R</tspan><tspan font-size="18" dx="-0.8" dy="-8.3">2</tspan><tspan font-weight="bold" dy="8.3"> = </tspan>0.000</text>
<text transform="translate(1346.40 801.10) scale(1.0 1.07)" font-size="26.5" font-weight="normal" text-anchor="start"><tspan font-weight="bold">p = </tspan>0.833</text>
<rect x="560.30" y="1324.30" width="172.4" height="121.4" fill="none" stroke="#000" stroke-width="2"/>
<text transform="translate(583.30 1362.00) scale(1.0 1.07)" font-size="26.5" font-weight="normal" text-anchor="start"><tspan font-weight="bold">r = </tspan>0.397</text>
<text transform="translate(583.30 1395.10) scale(1.0 1.07)" font-size="26.5" font-weight="normal" text-anchor="start"><tspan font-weight="bold">R</tspan><tspan font-size="18" dx="-0.8" dy="-8.3">2</tspan><tspan font-weight="bold" dy="8.3"> = </tspan>0.157</text>
<text transform="translate(583.30 1428.00) scale(1.0 1.07)" font-size="26.5" font-weight="normal" text-anchor="start"><tspan font-weight="bold">p &lt; </tspan>0.001</text>
<rect x="1324.00" y="1323.30" width="172.4" height="121.4" fill="none" stroke="#000" stroke-width="2"/>
<text transform="translate(1347.00 1361.00) scale(1.0 1.07)" font-size="26.5" font-weight="normal" text-anchor="start"><tspan font-weight="bold">r = </tspan>0.130</text>
<text transform="translate(1347.00 1394.10) scale(1.0 1.07)" font-size="26.5" font-weight="normal" text-anchor="start"><tspan font-weight="bold">R</tspan><tspan font-size="18" dx="-0.8" dy="-8.3">2</tspan><tspan font-weight="bold" dy="8.3"> = </tspan>0.017</text>
<text transform="translate(1347.00 1427.00) scale(1.0 1.07)" font-size="26.5" font-weight="normal" text-anchor="start"><tspan font-weight="bold">p = </tspan>0.267</text>
</svg></body></html>
